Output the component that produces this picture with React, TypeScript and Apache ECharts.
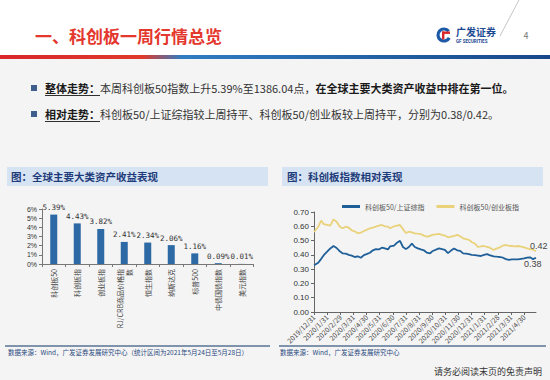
import React, { useEffect, useRef } from 'react';
import * as echarts from 'echarts';

// ---- Left chart: global asset returns (weekly) ----
const assetNames = ['科创板50', '科创板指', '创业板指', 'RJ/CRB商品价格指\n数', '恒生指数', '纳斯达克', '标普500', '中债国债指数', '美元指数'];
const assetReturns = [5.39, 4.43, 3.82, 2.41, 2.34, 2.06, 1.16, 0.09, 0.01];

// ---- Right chart: relative performance ----
const monthLabels = ['2019/12/31', '2020/1/31', '2020/2/29', '2020/3/31', '2020/4/30', '2020/5/31', '2020/6/30', '2020/7/31', '2020/8/31', '2020/9/30', '2020/10/31', '2020/11/30', '2020/12/31', '2021/1/31', '2021/2/28', '2021/3/31', '2021/4/30'];
const dates = ['2019-12-31', '2020-01-03', '2020-01-10', '2020-01-17', '2020-01-23', '2020-02-07', '2020-02-14', '2020-02-21', '2020-02-28', '2020-03-06', '2020-03-13', '2020-03-20', '2020-03-27', '2020-04-03', '2020-04-10', '2020-04-17', '2020-04-24', '2020-04-30', '2020-05-08', '2020-05-15', '2020-05-22', '2020-05-29', '2020-06-05', '2020-06-12', '2020-06-19', '2020-06-24', '2020-07-03', '2020-07-10', '2020-07-17', '2020-07-24', '2020-07-31', '2020-08-07', '2020-08-14', '2020-08-21', '2020-08-28', '2020-09-04', '2020-09-11', '2020-09-18', '2020-09-25', '2020-09-30', '2020-10-16', '2020-10-23', '2020-10-30', '2020-11-06', '2020-11-13', '2020-11-20', '2020-11-27', '2020-12-04', '2020-12-11', '2020-12-18', '2020-12-25', '2020-12-31', '2021-01-08', '2021-01-15', '2021-01-22', '2021-01-29', '2021-02-05', '2021-02-10', '2021-02-19', '2021-02-26', '2021-03-05', '2021-03-12', '2021-03-19', '2021-03-26', '2021-04-02', '2021-04-09', '2021-04-16', '2021-04-23', '2021-04-30', '2021-05-07', '2021-05-14', '2021-05-21', '2021-05-28'];
const starVsSse = [0.329, 0.332, 0.345, 0.372, 0.398, 0.445, 0.462, 0.448, 0.425, 0.41, 0.408, 0.40, 0.395, 0.385, 0.39, 0.38, 0.398, 0.405, 0.415, 0.432, 0.44, 0.438, 0.45, 0.445, 0.438, 0.46, 0.465, 0.485, 0.498, 0.455, 0.44, 0.455, 0.478, 0.455, 0.445, 0.438, 0.432, 0.415, 0.41, 0.425, 0.445, 0.44, 0.435, 0.412, 0.43, 0.445, 0.432, 0.428, 0.41, 0.408, 0.405, 0.40, 0.398, 0.395, 0.392, 0.40, 0.405, 0.398, 0.39, 0.387, 0.385, 0.38, 0.37, 0.365, 0.368, 0.369, 0.369, 0.372, 0.375, 0.38, 0.383, 0.37, 0.38];
const starVsChiNext = [0.562, 0.57, 0.597, 0.64, 0.615, 0.605, 0.648, 0.632, 0.597, 0.586, 0.597, 0.59, 0.572, 0.565, 0.551, 0.555, 0.567, 0.575, 0.586, 0.59, 0.597, 0.605, 0.609, 0.60, 0.597, 0.586, 0.60, 0.605, 0.609, 0.58, 0.553, 0.562, 0.558, 0.551, 0.548, 0.545, 0.535, 0.528, 0.532, 0.54, 0.547, 0.54, 0.535, 0.523, 0.528, 0.532, 0.54, 0.53, 0.516, 0.51, 0.505, 0.49, 0.478, 0.455, 0.46, 0.462, 0.455, 0.452, 0.434, 0.445, 0.453, 0.465, 0.469, 0.463, 0.462, 0.46, 0.462, 0.457, 0.453, 0.445, 0.44, 0.436, 0.425];

const FONT = "'Noto Sans CJK SC', 'Noto Sans', sans-serif";

// month position: 2019-12-31 -> 0, each month-end -> integer
const toMonthPos = (s: string) => {
  const [y, m, d] = s.split('-').map(Number);
  const dim = new Date(y, m, 0).getDate();
  return (y - 2020) * 12 + (m - 1) + d / dim;
};

export default function App() {
  const ref = useRef<HTMLDivElement>(null);
  useEffect(() => {
    if (!ref.current) return;
    const chart = echarts.init(ref.current, null, { renderer: 'svg' });
    const last = dates.length - 1;
    const xMax = toMonthPos(dates[last]);
    const pts = (vals: number[]) => dates.map((d, i) => [toMonthPos(d), vals[i]]);

    const option: any = {
      animation: false,
      backgroundColor: '#f4f4f4',
      textStyle: { fontFamily: FONT },
      graphic: [
        { type: 'rect', shape: { x: 0, y: 0, width: 550, height: 55 }, style: { fill: '#ffffff' }, silent: true },
        {
          type: 'rect', shape: { x: 0, y: 55, width: 550, height: 4 },
          style: {
            fill: new echarts.graphic.LinearGradient(0, 0, 1, 0, [
              { offset: 0, color: '#d9262b' },
              { offset: 0.26, color: '#de3a2c' },
              { offset: 0.33, color: '#2f7dc2' },
              { offset: 1, color: '#17478a' },
            ]),
          },
        },
        { type: 'text', x: 35, y: 35, style: { text: '一、科创板一周行情总览', fontSize: 17, fontWeight: 'bold', fill: '#e4372d', verticalAlign: 'middle', fontFamily: FONT } },
        // logo
        { type: 'arc', shape: { cx: 444, cy: 35, r: 6, startAngle: 0.5, endAngle: 5.6 }, style: { stroke: '#1c5aa8', lineWidth: 3.2, fill: 'none' } },
        { type: 'rect', shape: { x: 442, y: 31.5, width: 8, height: 2.4 }, style: { fill: '#d9262b' } },
        { type: 'rect', shape: { x: 442, y: 31.5, width: 2.4, height: 8 }, style: { fill: '#d9262b' } },
        { type: 'text', x: 456, y: 31, style: { text: '广发证券', fontSize: 10, fontWeight: 'bold', fill: '#1c4a92', verticalAlign: 'middle', fontFamily: FONT } },
        { type: 'text', x: 456, y: 41, style: { text: 'GF SECURITIES', fontSize: 4.5, fontWeight: 'bold', fill: '#1c4a92', verticalAlign: 'middle', fontFamily: 'Roboto' } },
        { type: 'line', shape: { x1: 519, y1: 0, x2: 500, y2: 36 }, style: { stroke: '#b8b8b8', lineWidth: 0.8 } },
        { type: 'text', x: 526, y: 35, style: { text: '4', fontSize: 9, fill: '#777', align: 'center', verticalAlign: 'middle', fontFamily: FONT } },
        // bullets
        { type: 'rect', shape: { x: 31, y: 85, width: 6, height: 6 }, style: { fill: '#3c5f8f' } },
        { type: 'rect', shape: { x: 31, y: 111, width: 6, height: 6 }, style: { fill: '#3c5f8f' } },
        {
          type: 'text', x: 45, y: 88,
          style: {
            text: '{b|整体走势：}{n|本周科创板50指数上升5.39%至1386.04点，}{b|在全球主要大类资产收益中排在第一位。}',
            verticalAlign: 'middle', fontFamily: FONT,
            rich: { b: { fontSize: 11, fontWeight: 'bold', fill: '#1a1a1a', fontFamily: FONT }, n: { fontSize: 11, fill: '#333', fontFamily: FONT } },
          },
        },
        {
          type: 'text', x: 45, y: 114,
          style: {
            text: '{b|相对走势：}{n|科创板50/上证综指较上周持平、科创板50/创业板较上周持平，分别为0.38/0.42。}',
            verticalAlign: 'middle', fontFamily: FONT,
            rich: { b: { fontSize: 11, fontWeight: 'bold', fill: '#1a1a1a', fontFamily: FONT }, n: { fontSize: 11, fill: '#333', fontFamily: FONT } },
          },
        },
        { type: 'line', shape: { x1: 45, y1: 95.5, x2: 100, y2: 95.5 }, style: { stroke: '#1a1a1a', lineWidth: 0.9 } },
        { type: 'line', shape: { x1: 45, y1: 121.5, x2: 100, y2: 121.5 }, style: { stroke: '#1a1a1a', lineWidth: 0.9 } },
        // panel title bars
        { type: 'rect', shape: { x: 7, y: 167, width: 261, height: 19 }, style: { fill: '#d6e3f3' } },
        { type: 'text', x: 11, y: 176.5, style: { text: '图：全球主要大类资产收益表现', fontSize: 10.5, fontWeight: 'bold', fill: '#1f3c7a', verticalAlign: 'middle', fontFamily: FONT } },
        { type: 'rect', shape: { x: 282, y: 167, width: 261, height: 19 }, style: { fill: '#d6e3f3' } },
        { type: 'text', x: 287, y: 176.5, style: { text: '图：科创板指数相对表现', fontSize: 10.5, fontWeight: 'bold', fill: '#1f3c7a', verticalAlign: 'middle', fontFamily: FONT } },
        // source lines
        { type: 'line', shape: { x1: 5, y1: 346, x2: 270, y2: 346 }, style: { stroke: '#5a7396', lineWidth: 1.4 } },
        { type: 'line', shape: { x1: 279, y1: 346, x2: 546, y2: 346 }, style: { stroke: '#5a7396', lineWidth: 1.4 } },
        { type: 'text', x: 8, y: 352, style: { text: '数据来源：Wind，广发证券发展研究中心（统计区间为2021年5月24日至5月28日）', fontSize: 6.5, fill: '#2a4a80', verticalAlign: 'middle', fontFamily: FONT } },
        { type: 'text', x: 280, y: 352, style: { text: '数据来源：Wind，广发证券发展研究中心', fontSize: 6.5, fill: '#2a4a80', verticalAlign: 'middle', fontFamily: FONT } },
        { type: 'text', x: 542, y: 371, style: { text: '请务必阅读末页的免责声明', fontSize: 9, fill: '#333', align: 'right', verticalAlign: 'middle', fontFamily: FONT } },
      ],
      legend: {
        show: true,
        left: 337,
        top: 198,
        itemWidth: 18,
        itemHeight: 3,
        itemGap: 12,
        icon: 'rect',
        textStyle: { fontSize: 7, color: '#555', fontFamily: FONT },
        data: ['科创板50/上证综指', '科创板50/创业板指'],
      },
      grid: [
        { left: 42, top: 209, width: 211.5, height: 55, containLabel: false },
        { left: 314, top: 212, width: 222, height: 100, containLabel: false },
      ],
      xAxis: [
        {
          type: 'category', gridIndex: 0, data: assetNames,
          axisLine: { lineStyle: { color: '#777', width: 1 } },
          axisTick: { show: true, alignWithLabel: false, length: 3, lineStyle: { color: '#777' } },
          axisLabel: { rotate: 90, fontSize: 7, color: '#444', margin: 5, interval: 0, lineHeight: 9, fontFamily: FONT },
        },
        {
          type: 'value', gridIndex: 1, min: 0, max: xMax, interval: 1,
          axisLine: { lineStyle: { color: '#666', width: 1 } },
          axisTick: { show: true, length: 3, lineStyle: { color: '#666' } },
          splitLine: { show: false },
          axisLabel: {
            rotate: 45, fontSize: 7, color: '#444', margin: 4, fontFamily: FONT, showMaxLabel: false,
            formatter: (v: number) => {
              const r = Math.round(v);
              return Math.abs(v - r) < 1e-6 && monthLabels[r] ? monthLabels[r] : '';
            },
          },
        },
      ],
      yAxis: [
        {
          type: 'value', gridIndex: 0, min: 0, max: 6, interval: 1,
          axisLine: { show: true, lineStyle: { color: '#777' } },
          axisTick: { show: true, length: 3, lineStyle: { color: '#777' } },
          splitLine: { show: false },
          axisLabel: { fontSize: 7, lineHeight: 8, color: '#333', margin: 5, formatter: '{value}%', fontFamily: 'Liberation Sans' },
        },
        {
          type: 'value', gridIndex: 1, min: 0, max: 0.7, interval: 0.1,
          axisLine: { show: true, lineStyle: { color: '#666' } },
          axisTick: { show: true, length: 3, lineStyle: { color: '#666' } },
          splitLine: { show: false },
          axisLabel: { fontSize: 8, color: '#333', margin: 5, formatter: (v: number) => v.toFixed(2), fontFamily: 'Liberation Sans' },
        },
      ],
      series: [
        {
          type: 'bar', xAxisIndex: 0, yAxisIndex: 0, data: assetReturns, barWidth: 7,
          itemStyle: { color: '#2d6aa5' },
          label: { show: true, position: 'top', distance: 3, fontSize: 7.5, color: '#333', fontFamily: "'DejaVu Sans Mono', monospace", formatter: (p: any) => p.value.toFixed(2) + '%' },
        },
        {
          name: '科创板50/上证综指', type: 'line', xAxisIndex: 1, yAxisIndex: 1, symbol: 'none',
          lineStyle: { color: '#1f5f99', width: 1.8 }, itemStyle: { color: '#1f5f99' },
          data: pts(starVsSse),
          endLabel: { show: true, distance: 0, offset: [-12, 6], fontSize: 9, color: '#444', fontFamily: 'Liberation Sans', formatter: (p: any) => p.value[1].toFixed(2) },
        },
        {
          name: '科创板50/创业板指', type: 'line', xAxisIndex: 1, yAxisIndex: 1, symbol: 'none',
          lineStyle: { color: '#e9d27a', width: 1.8 }, itemStyle: { color: '#e9d27a' },
          data: pts(starVsChiNext),
          endLabel: { show: true, distance: 0, offset: [-6, -5], fontSize: 9, color: '#444', fontFamily: 'Liberation Sans', formatter: (p: any) => p.value[1].toFixed(2) },
        },
      ],
    };
    chart.setOption(option);
    return () => chart.dispose();
  }, []);
  return <div ref={ref} style={{ position: 'fixed', left: 0, top: 0, width: 550, height: 380 }} />;
}
